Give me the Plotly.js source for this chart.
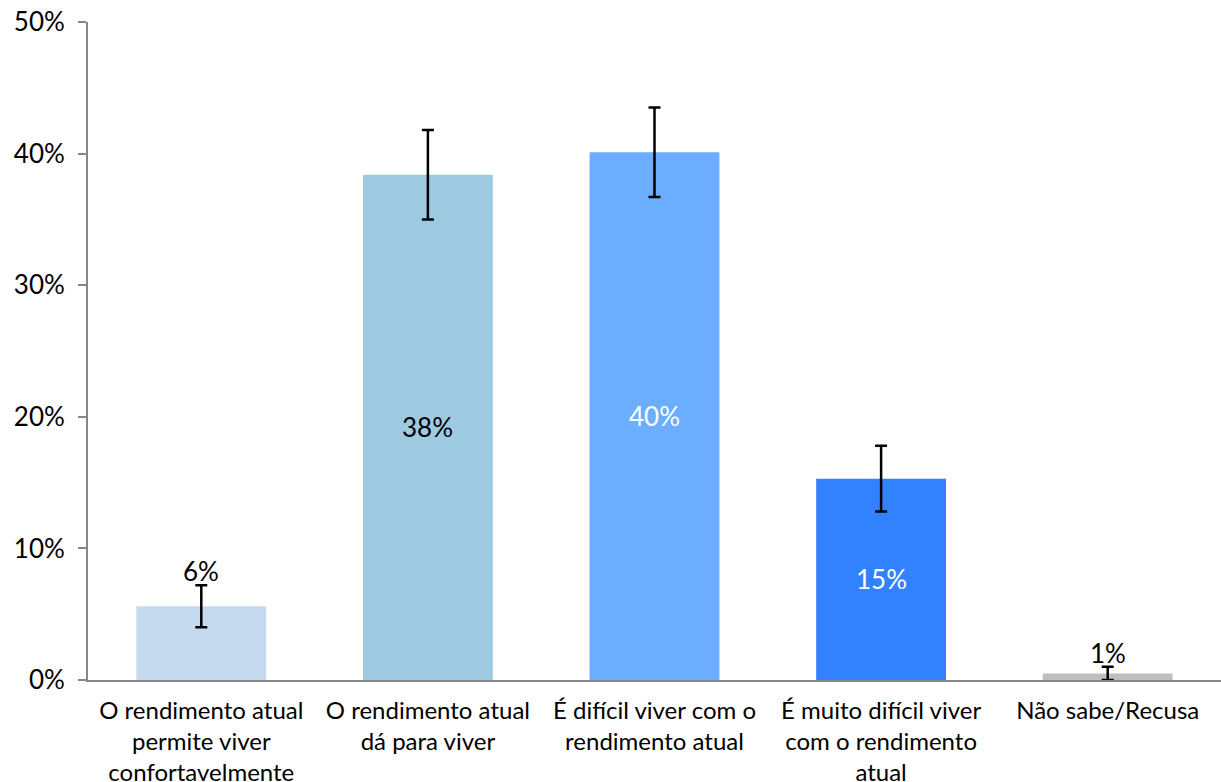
<!DOCTYPE html>
<html>
<head>
<meta charset="utf-8">
<script src="https://cdn.plot.ly/plotly-3.0.1.min.js"></script>
<style>html,body{margin:0;padding:0;background:#fff;}#chart{width:1221px;height:782px;}</style>
</head>
<body>
<div id="chart"></div>
<script>
const categories = [
  "O rendimento atual<br>permite viver<br>confortavelmente",
  "O rendimento atual<br>dá para viver",
  "É difícil viver com o<br>rendimento atual",
  "É muito difícil viver<br>com o rendimento<br>atual",
  "Não sabe/Recusa"
];
const values = [5.6, 38.4, 40.1, 15.3, 0.5];
const errors = [1.6, 3.4, 3.4, 2.5, 0.5];
const valueLabels = ["6%", "38%", "40%", "15%", "1%"];
const labelInside = [false, true, true, true, false];
const barColors = ["#c6daef", "#9ecae1", "#6baeff", "#3282ff", "#bfbfbf"];
const labelColors = ["#000000", "#000000", "#ffffff", "#ffffff", "#000000"];

const FONT = "Lato, 'Noto Sans', sans-serif";

const trace = {
  type: "bar",
  x: categories,
  y: values,
  width: 0.573,
  marker: {color: barColors},
  error_y: {type: "data", array: errors, visible: true, color: "#000000", thickness: 2.5, width: 6},
  hoverinfo: "skip"
};

const annotations = categories.map((c, i) => ({
  x: c,
  y: labelInside[i] ? values[i] / 2 : values[i] + errors[i],
  xref: "x", yref: "y",
  text: valueLabels[i],
  showarrow: false,
  yanchor: labelInside[i] ? "middle" : "bottom",
  yshift: labelInside[i] ? 0 : -4,
  font: {family: FONT, size: 26, color: labelColors[i]}
}));

const layout = {
  width: 1221, height: 782,
  margin: {l: 88, r: 0, t: 22, b: 102},
  paper_bgcolor: "#ffffff", plot_bgcolor: "#ffffff",
  showlegend: false,
  font: {family: FONT, size: 26, color: "#000000"},
  xaxis: {
    type: "category",
    showline: true, linecolor: "#878787", linewidth: 2,
    ticks: "", showgrid: false, zeroline: false,
    ticklabelstandoff: 8,
    tickfont: {family: FONT, size: 24, color: "#000000"}
  },
  yaxis: {
    range: [0, 50], dtick: 10, ticksuffix: "%",
    showline: true, linecolor: "#878787", linewidth: 2,
    ticks: "outside", ticklen: 8, tickwidth: 2, tickcolor: "#878787",
    showgrid: false, zeroline: false,
    ticklabelstandoff: 8,
    tickfont: {family: FONT, size: 26, color: "#000000"}
  },
  annotations: annotations
};

Plotly.newPlot("chart", [trace], layout, {displayModeBar: false, staticPlot: true});
</script>
</body>
</html>
